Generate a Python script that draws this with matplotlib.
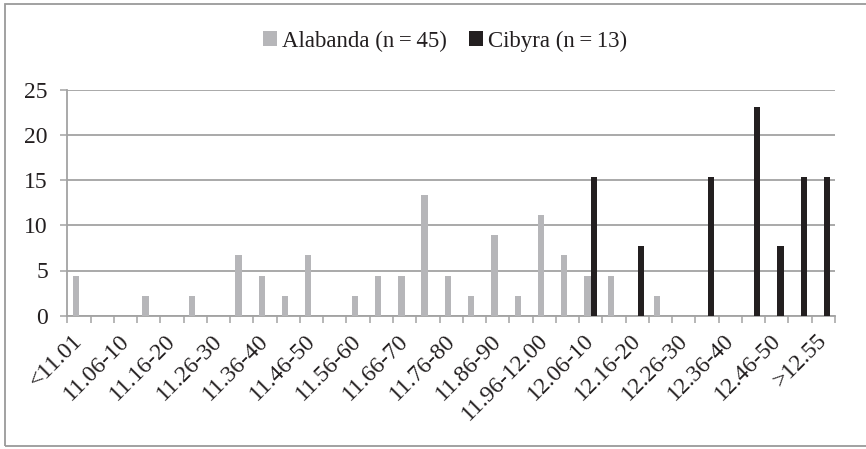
import matplotlib
matplotlib.use("Agg")
import matplotlib.pyplot as plt
from matplotlib.patches import Patch, Rectangle
import numpy as np

plt.rcParams["font.family"] = ["Liberation Serif", "DejaVu Serif"]

# ---- data (percent of each mint's sample) ----
categories = ["<11.01", "11.01-05", "11.06-10", "11.11-15", "11.16-20", "11.21-25",
              "11.26-30", "11.31-35", "11.36-40", "11.41-45", "11.46-50", "11.51-55",
              "11.56-60", "11.61-65", "11.66-70", "11.71-75", "11.76-80", "11.81-85",
              "11.86-90", "11.91-95", "11.96-12.00", "12.01-05", "12.06-10", "12.11-15",
              "12.16-20", "12.21-25", "12.26-30", "12.31-35", "12.36-40", "12.41-45",
              "12.46-50", "12.51-55", ">12.55"]
alabanda = [4.44, 0, 0, 2.22, 0, 2.22, 0, 6.67, 4.44, 2.22, 6.67, 0, 2.22, 4.44, 4.44,
            13.33, 4.44, 2.22, 8.89, 2.22, 11.11, 6.67, 4.44, 4.44, 0, 2.22, 0, 0, 0, 0,
            0, 0, 0]
cibyra = [0, 0, 0, 0, 0, 0, 0, 0, 0, 0, 0, 0, 0, 0, 0, 0, 0, 0, 0, 0, 0, 0,
          15.38, 0, 7.69, 0, 0, 15.38, 0, 23.08, 7.69, 15.38, 15.38]
series_labels = ["Alabanda (n\u2009=\u200945)", "Cibyra (n\u2009=\u200913)"]
yticks = [0, 5, 10, 15, 20, 25]

# ---- style ----
GRAY = "#b6b6b9"
BLACK = "#231f20"
GRID = "#a3a3a3"
TXT = "#231f20"
FS = 17

fig = plt.figure(figsize=(8.66, 4.49), dpi=100)
fig.patch.set_facecolor("white")
fig.add_artist(Rectangle((5 / 866, 3.5 / 449), 900 / 866, 442 / 449,
                         transform=fig.transFigure, fill=False, ec="#9a9a9a", lw=1.3))

ax = fig.add_axes([67.3 / 866, 1 - 315.7 / 449, (835 - 67.3) / 866, (315.7 - 89.7) / 449])

x = np.arange(len(categories))
ax.bar(x + 0.36, alabanda, width=0.27, color=GRAY, zorder=3)
ax.bar(x + 0.655, cibyra, width=0.27, color=BLACK, zorder=3)

ax.set_xlim(0, len(categories))
ax.set_ylim(0, 25)
ax.set_yticks(yticks)
ax.set_yticklabels([str(v) for v in yticks], fontsize=FS, color=TXT)
ax.yaxis.grid(True, color=GRID, lw=1.3, zorder=0)
ax.tick_params(axis="y", length=5, width=1.1, color=GRID, pad=9)

# category boundaries as ticks, every other label near the centres
ax.set_xticks(np.arange(len(categories) + 1), minor=True)
ax.set_xticks(x[::2] + 0.2)
ax.set_xticklabels(categories[::2], rotation=45, ha="right", va="top",
                   rotation_mode="anchor", fontsize=FS, color=TXT)
ax.tick_params(axis="x", which="major", length=0, pad=10.5)
ax.tick_params(axis="x", which="minor", length=5, width=1.1, color=GRID)

for s in ["top", "right"]:
    ax.spines[s].set_visible(False)
for s in ["left", "bottom"]:
    ax.spines[s].set_color(GRID)
    ax.spines[s].set_linewidth(1.3)

handles = [Patch(fc=GRAY, ec="none"), Patch(fc=BLACK, ec="none")]
fig.legend(handles, series_labels, loc="center", bbox_to_anchor=(445 / 866, 1 - 41 / 449),
           ncol=2, frameon=False, fontsize=16.5, handlelength=0.6, handleheight=0.6,
           handletextpad=0.2, columnspacing=1.0, labelcolor=TXT)

fig.savefig("out.png", dpi=100)
